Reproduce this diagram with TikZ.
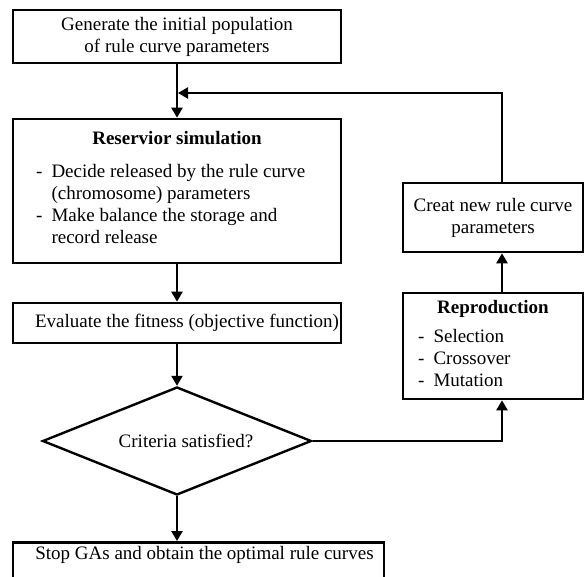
\documentclass[tikz,border=0pt]{standalone}
\usepackage{fontspec}
\setmainfont{Liberation Serif}
\usetikzlibrary{shapes.geometric,arrows.meta}

\begin{document}
\begin{tikzpicture}[x=1pt,y=-1pt]
	\tikzstyle{Block} = [rectangle, draw=black, line width=2.6pt, fill=white, inner sep=0pt, align=center, font=\fontsize{19}{22}\selectfont]
	\tikzstyle{Decision} = [diamond, aspect=2.5, draw=black, line width=2.4pt, fill=white, inner sep=0pt, minimum width=269pt, minimum height=108pt, font=\fontsize{19}{22}\selectfont]
	\tikzstyle{Plain} = [inner sep=0pt, font=\fontsize{19}{22}\selectfont]
	\tikzstyle{arrow} = [line width=2.3pt, -{Triangle[length=10pt,width=11pt]}]

	\useasboundingbox (0,0) rectangle (584,577);

	\node (init) [Block, minimum width=328pt, minimum height=53pt] at (177,36.5) {Generate the initial population\\of rule curve parameters};
	\node (sim) [Block, minimum width=328pt, minimum height=144pt] at (177,191) {};
	\node (simtitle) [Plain] at (177,138) {\textbf{Reservior simulation}};
	\node (simlist) [Plain, anchor=west] at (36,206.6) {\begin{tabular}{@{}l@{\hspace{9pt}}l@{}}
		- & Decide released by the rule curve\\
		  & (chromosome) parameters\\
		- & Make balance the storage and\\
		  & record release
	\end{tabular}};
	\node (eval) [Block, minimum width=328pt, minimum height=40pt] at (177,323) {\hspace*{20pt}Evaluate the fitness (objective function)};
	\node (crit) [Decision] at (177,441) {\hspace*{18pt}Criteria satisfied?};
	\node (stop) [Block, anchor=north, minimum width=371pt, inner ysep=4.5pt, text depth=22pt] at (198.5,541) {\hspace*{12pt}Stop GAs and obtain the optimal rule curves};

	\node (repro) [Block, minimum width=180pt, minimum height=106pt] at (493,346) {};
	\node (reprotitle) [Plain] at (493,309) {\textbf{Reproduction}};
	\node (reprolist) [Plain, anchor=west] at (418,360.6) {\begin{tabular}{@{}l@{\hspace{9pt}}l@{}}
		- & Selection\\
		- & Crossover\\
		- & Mutation
	\end{tabular}};
	\node (creat) [Block, minimum width=180pt, minimum height=69pt] at (493,217.5) {Creat new rule curve\\parameters};
	\coordinate (merge) at (178,93);

	\draw [arrow] (init) -- (sim);
	\draw [arrow] (sim) -- (eval);
	\draw [arrow] (eval) -- (crit);
	\draw [arrow] (crit.south) -- (crit.south |- stop.north);
	\draw [arrow] (crit.east) -| ([xshift=9pt]repro.south);
	\draw [arrow] ([xshift=9pt]repro.north) -- ([xshift=9pt]creat.south);
	\draw [arrow] ([xshift=9pt]creat.north) |- (merge);
\end{tikzpicture}
\end{document}
